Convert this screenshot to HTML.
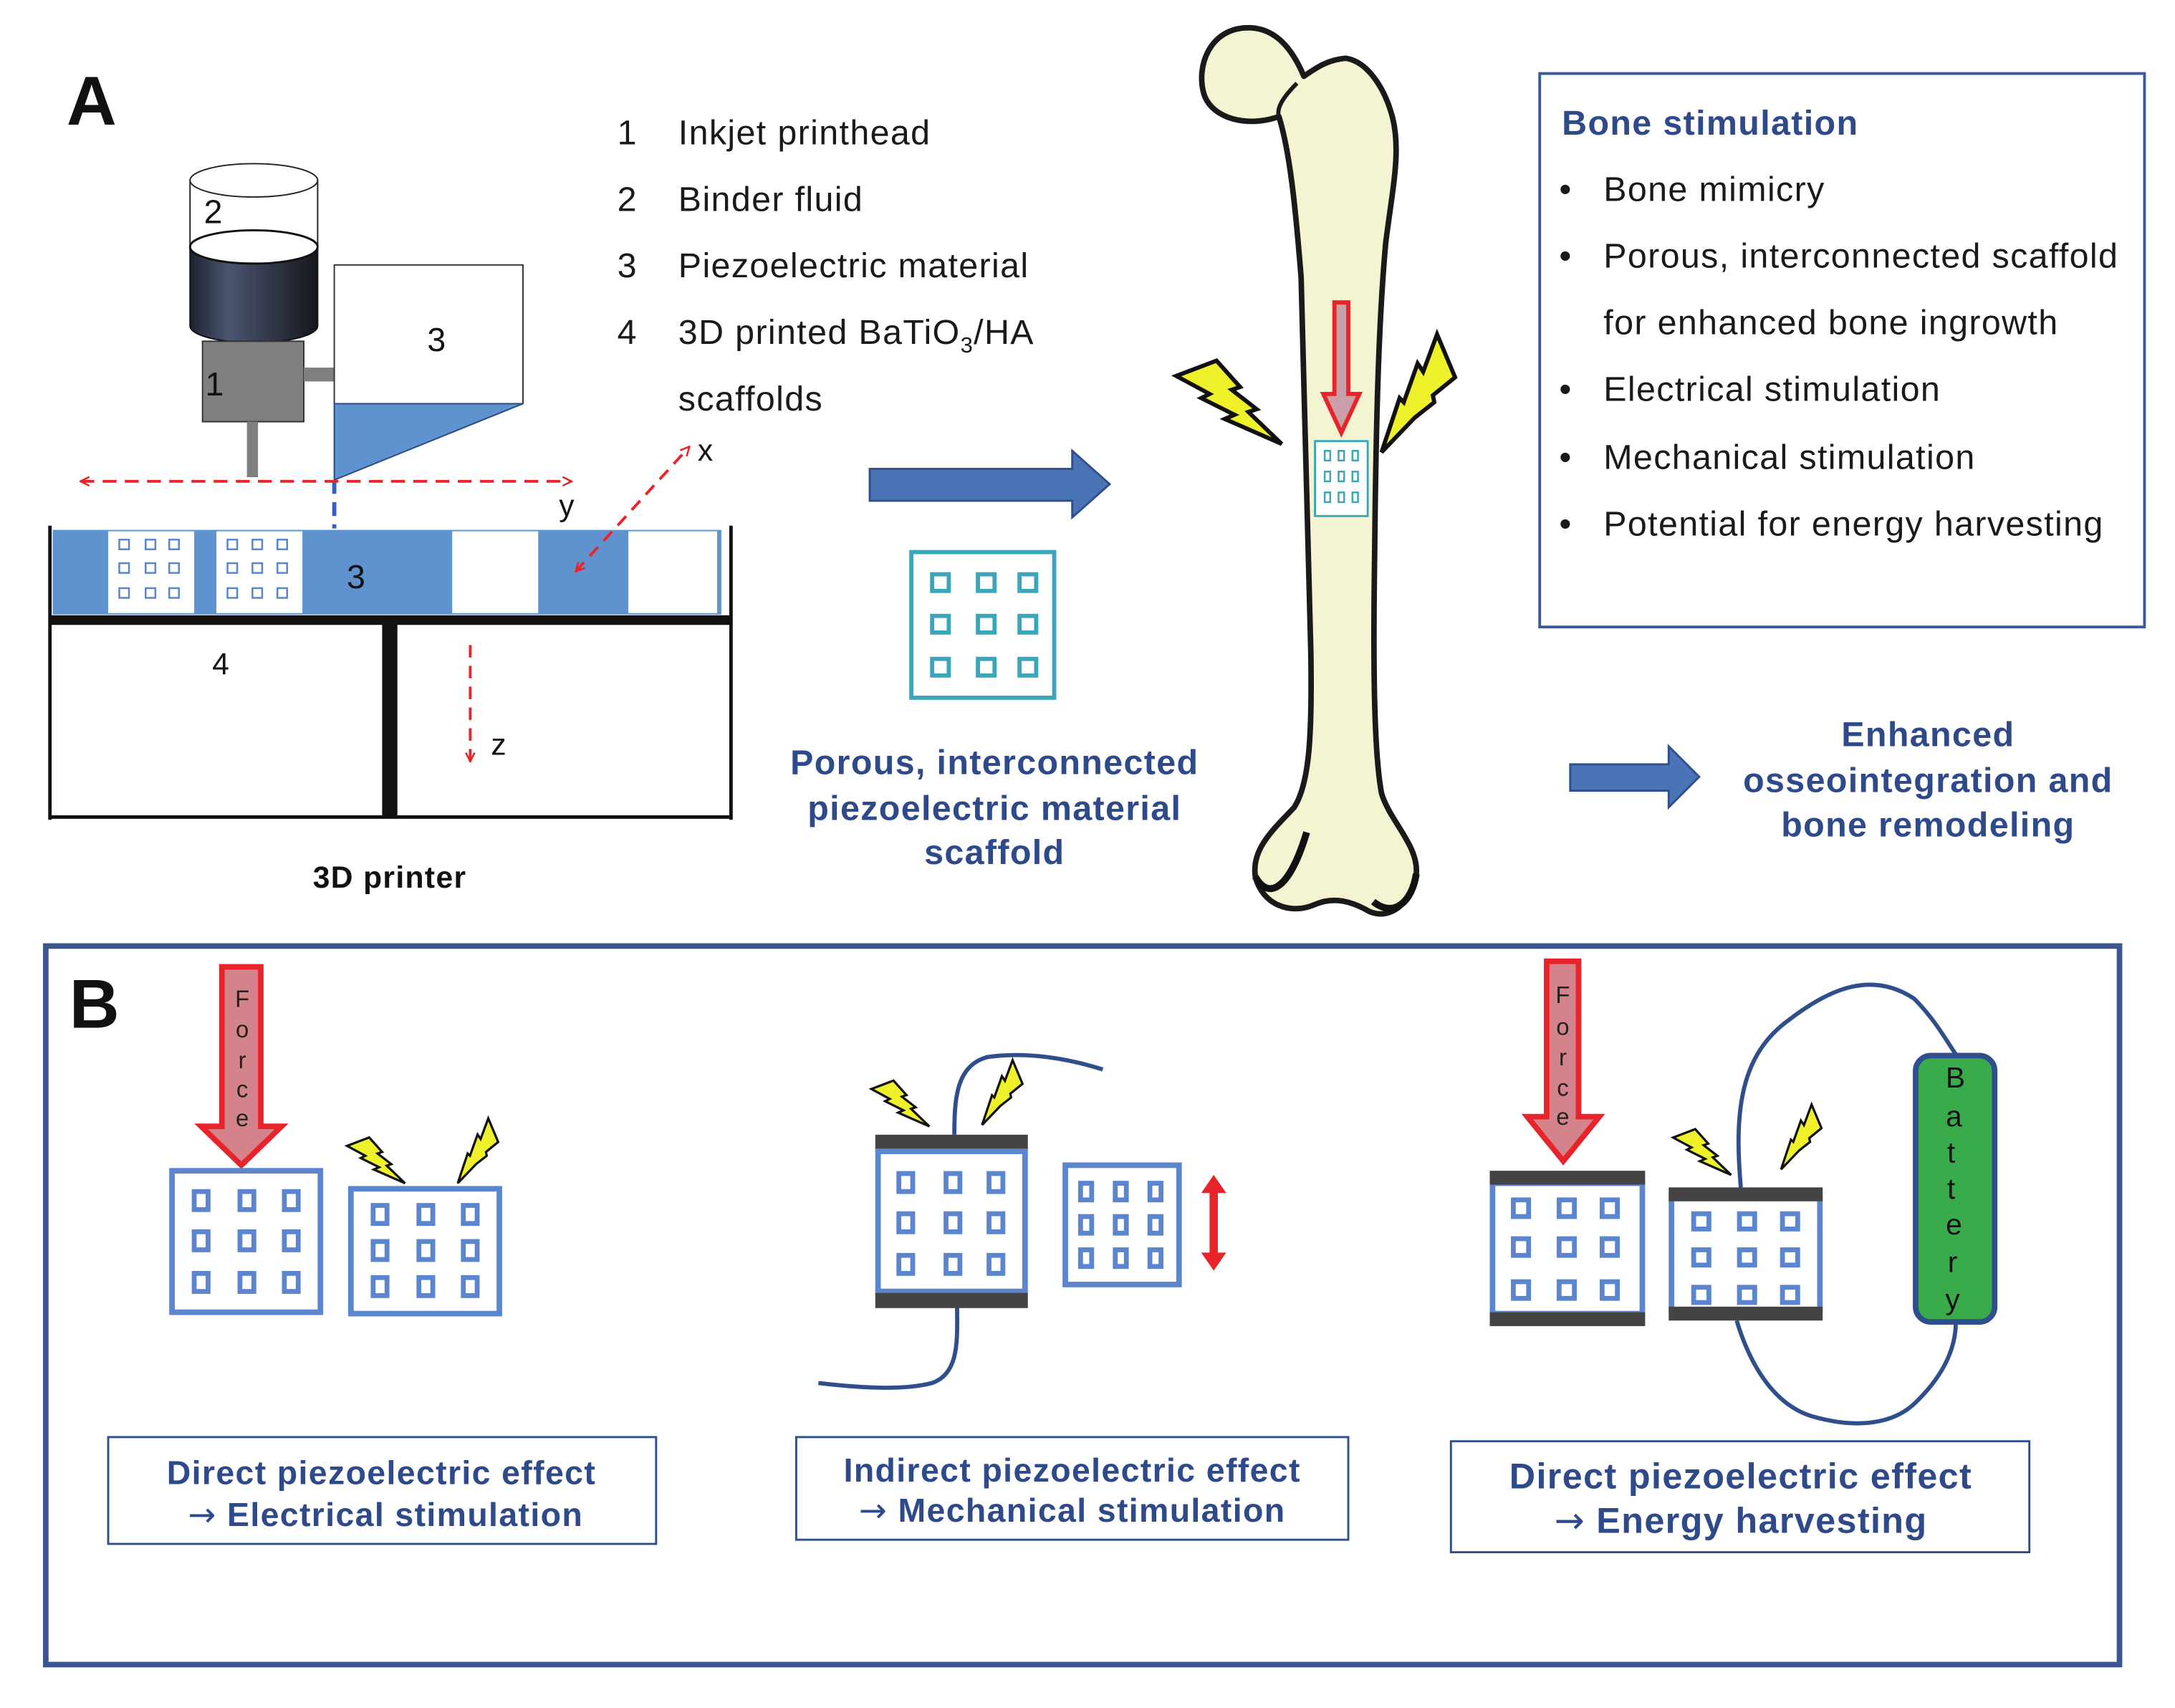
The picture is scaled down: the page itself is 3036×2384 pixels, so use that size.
<!DOCTYPE html>
<html><head><meta charset="utf-8"><style>
html,body{margin:0;padding:0;background:#fff}
svg{display:block}
text{font-family:"Liberation Sans",Arial,sans-serif;letter-spacing:0.7px}
</style></head><body>
<svg width="3036" height="2384" viewBox="0 0 1568 1231.3" preserveAspectRatio="none" xmlns="http://www.w3.org/2000/svg">
<defs>
<marker id="ra" viewBox="0 0 10 10" refX="9" refY="5" markerWidth="4" markerHeight="4" orient="auto-start-reverse"><path d="M1,1 L9,5 L1,9" fill="none" stroke="#e8232a" stroke-width="1.6"/></marker>
<g id="boltL"><polygon points="-76,-49 -47,-60 -30,-41 -36,-39 -18,-25 -24,-23 0,0 -41,-18 -34,-21 -58,-33 -52,-36" fill="#eef02a" stroke="#111" stroke-width="3" stroke-linejoin="miter"/></g>
<g id="boltR"><polygon points="40,-85 53,-54 37,-41 38,-36 24,-25 0,0 13,-39 16,-36 26,-64 30,-58" fill="#eef02a" stroke="#111" stroke-width="3"/></g>
<linearGradient id="cyl" x1="0" x2="1"><stop offset="0" stop-color="#1c2230"/><stop offset="0.3" stop-color="#4a5570"/><stop offset="1" stop-color="#15171c"/></linearGradient>
</defs>

<!-- A -->
<text x="48" y="90" font-size="50" font-weight="bold" fill="#111">A</text>
<g font-size="25" fill="#1a1a1a">
<text x="445" y="104">1</text><text x="489" y="104">Inkjet printhead</text>
<text x="445" y="152">2</text><text x="489" y="152">Binder fluid</text>
<text x="445" y="200">3</text><text x="489" y="200">Piezoelectric material</text>
<text x="445" y="248">4</text><text x="489" y="248">3D printed BaTiO<tspan font-size="16" dy="6">3</tspan><tspan dy="-6">/HA</tspan></text>
<text x="489" y="296">scaffolds</text>
</g>

<!-- printhead -->
<rect x="137" y="130" width="92" height="50" fill="#fff" stroke="#222" stroke-width="1"/>
<ellipse cx="183" cy="130" rx="46" ry="12" fill="#fff" stroke="#222" stroke-width="1"/>
<path d="M137,178 L137,235 A46,12 0 0 0 229,235 L229,178 Z" fill="url(#cyl)" stroke="#111"/>
<ellipse cx="183" cy="178" rx="46" ry="12" fill="#fff" stroke="#111" stroke-width="1.5"/>
<text x="147" y="161" font-size="24" fill="#111">2</text>
<rect x="146" y="246" width="73" height="58" fill="#7f7f7f" stroke="#333" stroke-width="1"/>
<text x="148" y="285" font-size="24" fill="#111">1</text>
<rect x="178" y="304" width="8" height="40" fill="#7f7f7f"/>
<rect x="219" y="265" width="22" height="10" fill="#7f7f7f"/>
<rect x="241" y="191" width="136" height="100" fill="#fff" stroke="#333" stroke-width="1"/>
<text x="308" y="253" font-size="24" fill="#111">3</text>
<polygon points="241,291 377,291 241,346" fill="#5f93d0" stroke="#2a4a80" stroke-width="1"/>
<line x1="241" y1="346" x2="241" y2="381" stroke="#3a5fc0" stroke-width="3" stroke-dasharray="10,6"/>
<line x1="58" y1="347" x2="412" y2="347" stroke="#e8232a" stroke-width="2" stroke-dasharray="10,6" marker-start="url(#ra)" marker-end="url(#ra)"/>
<text x="403" y="372" font-size="22" fill="#111">y</text>
<rect x="38" y="382" width="482" height="61" fill="#5f93d0"/>
<rect x="78" y="383" width="62" height="59" fill="#fff"/>
<rect x="156" y="383" width="62" height="59" fill="#fff"/>
<rect x="326" y="383" width="62" height="59" fill="#fff"/>
<rect x="453" y="383" width="64" height="59" fill="#fff"/>
<g fill="none" stroke="#5b86cf" stroke-width="1.3">
<rect x="86" y="389" width="7" height="7"/><rect x="105" y="389" width="7" height="7"/><rect x="122" y="389" width="7" height="7"/>
<rect x="86" y="406" width="7" height="7"/><rect x="105" y="406" width="7" height="7"/><rect x="122" y="406" width="7" height="7"/>
<rect x="86" y="424" width="7" height="7"/><rect x="105" y="424" width="7" height="7"/><rect x="122" y="424" width="7" height="7"/>
<rect x="164" y="389" width="7" height="7"/><rect x="182" y="389" width="7" height="7"/><rect x="200" y="389" width="7" height="7"/>
<rect x="164" y="406" width="7" height="7"/><rect x="182" y="406" width="7" height="7"/><rect x="200" y="406" width="7" height="7"/>
<rect x="164" y="424" width="7" height="7"/><rect x="182" y="424" width="7" height="7"/><rect x="200" y="424" width="7" height="7"/>
</g>
<text x="250" y="424" font-size="24" fill="#111">3</text>
<line x1="415" y1="412" x2="497" y2="322" stroke="#e8232a" stroke-width="2" stroke-dasharray="9,6" marker-start="url(#ra)" marker-end="url(#ra)"/>
<text x="503" y="332" font-size="22" fill="#111">x</text>
<line x1="36" y1="379" x2="36" y2="591" stroke="#111" stroke-width="2.5"/>
<line x1="527" y1="379" x2="527" y2="591" stroke="#111" stroke-width="2.5"/>
<line x1="35" y1="447" x2="528" y2="447" stroke="#111" stroke-width="7"/>
<line x1="35" y1="589" x2="528" y2="589" stroke="#111" stroke-width="2.5"/>
<line x1="281" y1="447" x2="281" y2="590" stroke="#111" stroke-width="11"/>
<text x="153" y="486" font-size="22" fill="#111">4</text>
<line x1="339" y1="465" x2="339" y2="549" stroke="#e8232a" stroke-width="2" stroke-dasharray="9,6" marker-end="url(#ra)"/>
<text x="354" y="544" font-size="22" fill="#111">z</text>
<text x="281" y="640" font-size="22" font-weight="bold" fill="#111" text-anchor="middle">3D printer</text>

<polygon points="627,338 773,338 773,325 800,349 773,373 773,361 627,361" fill="#4a73b8" stroke="#2e4f8c" stroke-width="1.5"/>
<rect x="657" y="398" width="103" height="105" fill="#fff" stroke="#3aa6b9" stroke-width="3"/>
<g fill="none" stroke="#3aa6b9" stroke-width="3">
<rect x="672" y="414" width="12" height="12"/><rect x="705" y="414" width="12" height="12"/><rect x="735" y="414" width="12" height="12"/>
<rect x="672" y="444" width="12" height="12"/><rect x="705" y="444" width="12" height="12"/><rect x="735" y="444" width="12" height="12"/>
<rect x="672" y="475" width="12" height="12"/><rect x="705" y="475" width="12" height="12"/><rect x="735" y="475" width="12" height="12"/>
</g>
<g font-size="25" font-weight="bold" fill="#2e4a8a" text-anchor="middle">
<text x="717" y="558">Porous, interconnected</text>
<text x="717" y="591">piezoelectric material</text>
<text x="717" y="623">scaffold</text>
</g>

<!-- bone -->
<path d="M900,20 C872,20 862,48 868,68 C874,86 900,92 922,84 C930,110 934,150 938,200 C941,300 944,400 945,470 C946,530 944,565 933,582 C918,598 902,612 905,632 C910,652 930,660 948,652 C962,646 975,650 987,657 C1003,664 1018,650 1021,630 C1023,610 1002,592 996,572 C990,540 990,470 991,400 C992,300 994,230 999,175 C1004,135 1010,110 1004,85 C998,62 985,44 970,42 C958,43 950,48 940,55 C932,36 920,20 900,20 Z" fill="#f4f4d2" stroke="#1a1a1a" stroke-width="4" stroke-linejoin="round"/>
<path d="M935,60 C925,70 920,78 922,84" fill="none" stroke="#1a1a1a" stroke-width="3"/>
<path d="M942,600 C930,640 915,650 905,632" fill="none" stroke="#111" stroke-width="5"/>
<path d="M990,650 C1005,662 1018,650 1021,630" fill="none" stroke="#111" stroke-width="5"/>
<polygon points="962,218 972,218 972,284 980,284 967,312 954,284 962,284" fill="#c9a0a8" stroke="#e8232a" stroke-width="3"/>
<rect x="948" y="318" width="38" height="54" fill="#fff" stroke="#3aa6b9" stroke-width="1.5"/>
<g fill="none" stroke="#3aa6b9" stroke-width="1.3">
<rect x="955" y="325" width="4" height="7"/><rect x="965" y="325" width="4" height="7"/><rect x="975" y="325" width="4" height="7"/>
<rect x="955" y="340" width="4" height="7"/><rect x="965" y="340" width="4" height="7"/><rect x="975" y="340" width="4" height="7"/>
<rect x="955" y="355" width="4" height="7"/><rect x="965" y="355" width="4" height="7"/><rect x="975" y="355" width="4" height="7"/>
</g>
<use href="#boltL" transform="translate(924,320)"/>
<use href="#boltR" transform="translate(996,326)"/>

<rect x="1110" y="53" width="436" height="399" fill="#fff" stroke="#3a5a9a" stroke-width="2"/>
<text x="1126" y="97" font-size="25" font-weight="bold" fill="#2e4a8a">Bone stimulation</text>
<g font-size="25" fill="#1a1a1a">
<text x="1124" y="145">•</text><text x="1156" y="145">Bone mimicry</text>
<text x="1124" y="193">•</text><text x="1156" y="193">Porous, interconnected scaffold</text>
<text x="1156" y="241">for enhanced bone ingrowth</text>
<text x="1124" y="289">•</text><text x="1156" y="289">Electrical stimulation</text>
<text x="1124" y="338">•</text><text x="1156" y="338">Mechanical stimulation</text>
<text x="1124" y="386">•</text><text x="1156" y="386">Potential for energy harvesting</text>
</g>
<polygon points="1132,551 1203,551 1203,538 1225,560 1203,582 1203,570 1132,570" fill="#4a73b8" stroke="#2e4f8c" stroke-width="1.5"/>
<g font-size="25" font-weight="bold" fill="#2e4a8a" text-anchor="middle">
<text x="1390" y="538">Enhanced</text>
<text x="1390" y="571">osseointegration and</text>
<text x="1390" y="603">bone remodeling</text>
</g>

<!-- B -->
<rect x="33" y="682" width="1495" height="518" fill="none" stroke="#3a5590" stroke-width="4"/>
<text x="50" y="741" font-size="50" font-weight="bold" fill="#111">B</text>

<polygon points="160,697 188,697 188,812 203,812 174,840 145,812 160,812" fill="#d4838a" stroke="#e8232a" stroke-width="4"/>
<g font-size="17" fill="#222" text-anchor="middle">
<text x="175" y="726">F</text><text x="175" y="748">o</text><text x="175" y="770">r</text><text x="175" y="791">c</text><text x="175" y="812">e</text>
</g>
<g fill="#fff" stroke="#5b86cf" stroke-width="4">
<rect x="124" y="844" width="107" height="102"/>
<rect x="253" y="857" width="107" height="90"/>
</g>
<g fill="none" stroke="#5b86cf" stroke-width="3.5">
<rect x="140" y="859" width="10" height="13"/><rect x="173" y="859" width="10" height="13"/><rect x="205" y="859" width="10" height="13"/>
<rect x="140" y="888" width="10" height="13"/><rect x="173" y="888" width="10" height="13"/><rect x="205" y="888" width="10" height="13"/>
<rect x="140" y="918" width="10" height="13"/><rect x="173" y="918" width="10" height="13"/><rect x="205" y="918" width="10" height="13"/>
<rect x="269" y="869" width="10" height="13"/><rect x="302" y="869" width="10" height="13"/><rect x="334" y="869" width="10" height="13"/>
<rect x="269" y="895" width="10" height="13"/><rect x="302" y="895" width="10" height="13"/><rect x="334" y="895" width="10" height="13"/>
<rect x="269" y="921" width="10" height="13"/><rect x="302" y="921" width="10" height="13"/><rect x="334" y="921" width="10" height="13"/>
</g>
<use href="#boltL" transform="translate(292,853) scale(0.55)"/>
<use href="#boltR" transform="translate(330,853) scale(0.55)"/>

<path d="M688,818 C688,790 690,768 712,762 C740,758 770,763 795,771" fill="none" stroke="#2f4f8c" stroke-width="3"/>
<path d="M690,942 C690,965 692,990 672,997 C650,1003 615,1000 590,997" fill="none" stroke="#2f4f8c" stroke-width="3"/>
<rect x="631" y="818" width="110" height="11" fill="#444"/>
<rect x="633" y="830" width="106" height="101" fill="#fff" stroke="#5b86cf" stroke-width="4"/>
<rect x="631" y="932" width="110" height="11" fill="#444"/>
<rect x="768" y="840" width="82" height="86" fill="#fff" stroke="#5b86cf" stroke-width="4"/>
<g fill="none" stroke="#5b86cf" stroke-width="3.5">
<rect x="648" y="846" width="10" height="13"/><rect x="682" y="846" width="10" height="13"/><rect x="713" y="846" width="10" height="13"/>
<rect x="648" y="875" width="10" height="13"/><rect x="682" y="875" width="10" height="13"/><rect x="713" y="875" width="10" height="13"/>
<rect x="648" y="905" width="10" height="13"/><rect x="682" y="905" width="10" height="13"/><rect x="713" y="905" width="10" height="13"/>
<rect x="779" y="853" width="8" height="12"/><rect x="804" y="853" width="8" height="12"/><rect x="829" y="853" width="8" height="12"/>
<rect x="779" y="877" width="8" height="12"/><rect x="804" y="877" width="8" height="12"/><rect x="829" y="877" width="8" height="12"/>
<rect x="779" y="901" width="8" height="12"/><rect x="804" y="901" width="8" height="12"/><rect x="829" y="901" width="8" height="12"/>
</g>
<polygon points="875,847 884,860 878,860 878,903 884,903 875,916 866,903 872,903 872,860 866,860" fill="#e8232a"/>
<use href="#boltL" transform="translate(670,812) scale(0.55)"/>
<use href="#boltR" transform="translate(708,811) scale(0.55)"/>

<path d="M1255,856 C1250,800 1255,760 1290,735 C1320,712 1350,700 1380,720 C1395,735 1403,750 1410,760" fill="none" stroke="#2f4f8c" stroke-width="3"/>
<path d="M1252,952 C1262,985 1280,1015 1310,1022 C1340,1030 1365,1026 1380,1012 C1398,995 1410,975 1410,953" fill="none" stroke="#2f4f8c" stroke-width="3"/>
<polygon points="1115,693 1138,693 1138,805 1153,805 1127,837 1101,805 1115,805" fill="#d4838a" stroke="#e8232a" stroke-width="4"/>
<g font-size="17" fill="#222" text-anchor="middle">
<text x="1127" y="723">F</text><text x="1127" y="746">o</text><text x="1127" y="768">r</text><text x="1127" y="790">c</text><text x="1127" y="811">e</text>
</g>
<rect x="1076" y="853" width="108" height="94" fill="#fff" stroke="#5b86cf" stroke-width="4"/>
<rect x="1074" y="844" width="112" height="10" fill="#444"/>
<rect x="1074" y="946" width="112" height="10" fill="#444"/>
<rect x="1205" y="864" width="107" height="80" fill="#fff" stroke="#5b86cf" stroke-width="4"/>
<rect x="1203" y="856" width="111" height="10" fill="#444"/>
<rect x="1203" y="942" width="111" height="10" fill="#444"/>
<g fill="none" stroke="#5b86cf" stroke-width="3.5">
<rect x="1091" y="865" width="11" height="12"/><rect x="1124" y="865" width="11" height="12"/><rect x="1155" y="865" width="11" height="12"/>
<rect x="1091" y="893" width="11" height="12"/><rect x="1124" y="893" width="11" height="12"/><rect x="1155" y="893" width="11" height="12"/>
<rect x="1091" y="924" width="11" height="12"/><rect x="1124" y="924" width="11" height="12"/><rect x="1155" y="924" width="11" height="12"/>
<rect x="1221" y="875" width="11" height="11"/><rect x="1254" y="875" width="11" height="11"/><rect x="1285" y="875" width="11" height="11"/>
<rect x="1221" y="901" width="11" height="11"/><rect x="1254" y="901" width="11" height="11"/><rect x="1285" y="901" width="11" height="11"/>
<rect x="1221" y="928" width="11" height="11"/><rect x="1254" y="928" width="11" height="11"/><rect x="1285" y="928" width="11" height="11"/>
</g>
<use href="#boltL" transform="translate(1248,847) scale(0.55)"/>
<use href="#boltR" transform="translate(1284,843) scale(0.55)"/>
<rect x="1381" y="761" width="57" height="192" rx="11" fill="#3aab4a" stroke="#2f4f8c" stroke-width="4"/>
<g font-size="21" fill="#111" text-anchor="middle">
<text x="1410" y="784">B</text><text x="1409" y="812">a</text><text x="1407" y="838">t</text><text x="1407" y="864">t</text><text x="1409" y="890">e</text><text x="1408" y="917">r</text><text x="1408" y="944">y</text>
</g>

<rect x="78" y="1036" width="395" height="77" fill="#fff" stroke="#2f4f8c" stroke-width="1.5"/>
<rect x="574" y="1036" width="398" height="74" fill="#fff" stroke="#2f4f8c" stroke-width="1.5"/>
<rect x="1046" y="1039" width="417" height="80" fill="#fff" stroke="#2f4f8c" stroke-width="1.5"/>
<g font-weight="bold" fill="#2e4a8a" text-anchor="middle">
<text x="275" y="1070" font-size="24">Direct piezoelectric effect</text>
<text x="278" y="1100" font-size="24"><tspan font-family="DejaVu Sans" font-weight="normal">→</tspan> Electrical stimulation</text>
<text x="773" y="1068" font-size="24">Indirect piezoelectric effect</text>
<text x="773" y="1097" font-size="24"><tspan font-family="DejaVu Sans" font-weight="normal">→</tspan> Mechanical stimulation</text>
<text x="1255" y="1073" font-size="26">Direct piezoelectric effect</text>
<text x="1255" y="1105" font-size="26"><tspan font-family="DejaVu Sans" font-weight="normal">→</tspan> Energy harvesting</text>
</g>
</svg>
</body></html>
